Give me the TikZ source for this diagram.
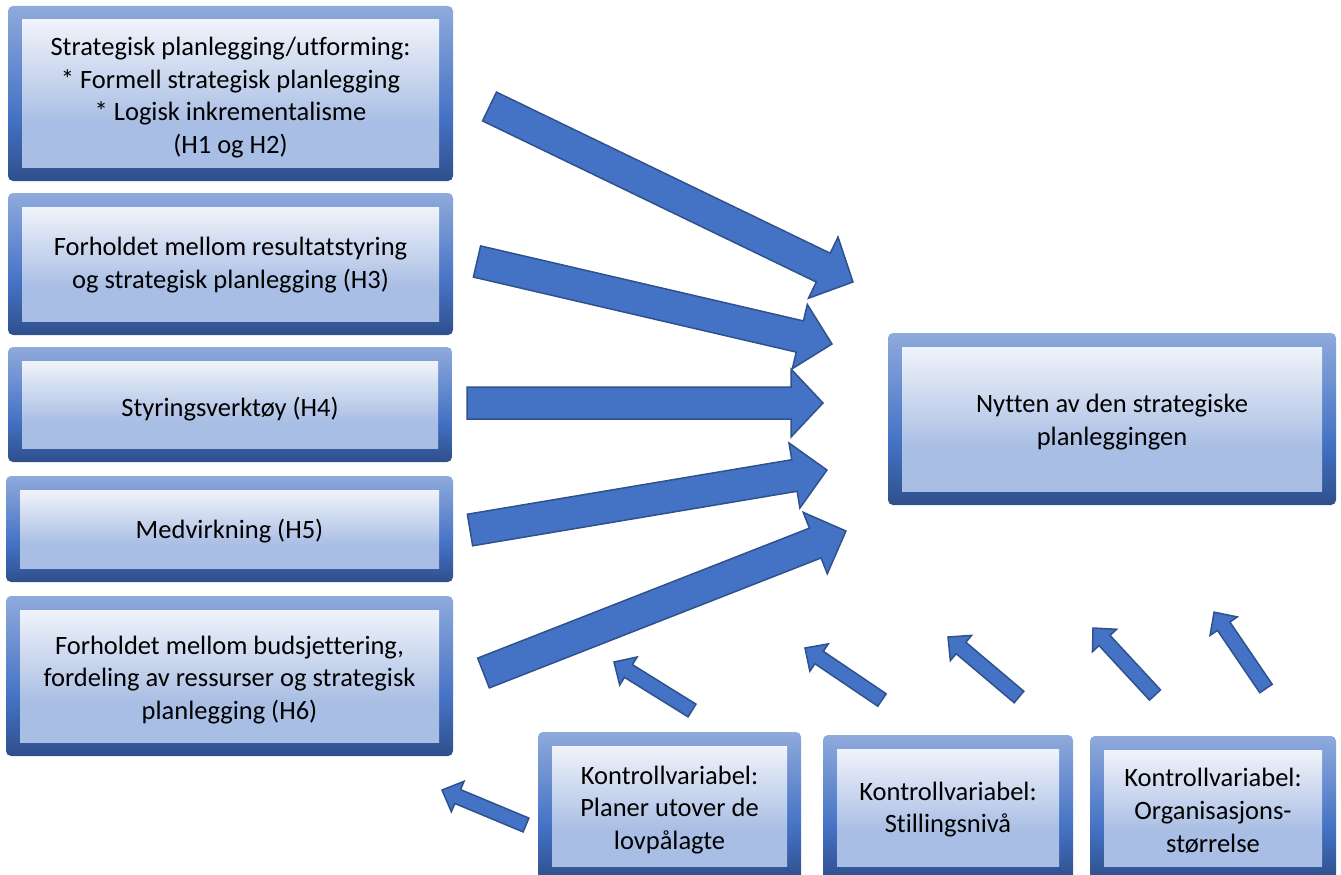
\documentclass[tikz,border=0pt]{standalone}
\usepackage{fontspec}
\setmainfont{Carlito}[Ligatures=CommonOff]
\usetikzlibrary{calc}
\definecolor{flight}{HTML}{8FAADC}
\definecolor{fmid}{HTML}{4472C4}
\definecolor{fdark}{HTML}{2F4F8C}
\definecolor{itop}{HTML}{F0F3FA}
\definecolor{ibot}{HTML}{A9BEE4}
\definecolor{arrowfill}{HTML}{4472C4}
\definecolor{arrowline}{HTML}{2F528F}
\pgfdeclareverticalshading{outerframe}{100bp}{color(0bp)=(fdark); color(25bp)=(fdark); color(43bp)=(fmid); color(75bp)=(flight); color(100bp)=(flight)}
\pgfdeclareverticalshading{innerfill}{100bp}{color(0bp)=(ibot); color(25bp)=(ibot); color(40bp)=(ibot); color(75bp)=(itop); color(100bp)=(itop)}
\tikzset{
  frame/.style={rounded corners=5pt, shading=outerframe, draw=none, inner sep=0pt, outer sep=0pt},
  innerbox/.style={shading=innerfill, draw=none, inner sep=0pt, outer sep=0pt},
  boxtext/.style={align=center, inner sep=0pt, font=\fontsize{26.5}{32.8}\selectfont, text=black},
  barrow/.style={fill=arrowfill, draw=arrowline, line width=1.5pt, line join=miter},
}
\newcommand{\blockarrow}[5]{%
  \draw[barrow] let \p1=(#1), \p2=(#2), \n1={atan2(\y2-\y1,\x2-\x1)}, \n2={veclen(\x2-\x1,\y2-\y1)} in
  [shift={(\p1)}, rotate=\n1] (0,#3) -- ({\n2-#5},#3) -- ({\n2-#5},#4) -- (\n2,0) -- ({\n2-#5},-#4) -- ({\n2-#5},-#3) -- (0,-#3) -- cycle;}
\newcommand{\boxpair}[7]{% name, x, y, w, h, text, text shift down
  \node[frame, minimum width=#4pt, minimum height=#5pt] (#1) at (#2,#3) {};
  \node[innerbox, minimum width={(#4-28)*1pt}, minimum height={(#5-28)*1pt}] (#1i) at (#1) {};
  \node[boxtext, yshift=-#7pt] (#1t) at (#1i) {#6};}
\begin{document}
\begin{tikzpicture}[x=1pt,y=-1pt]
\useasboundingbox (0,0) rectangle (1341,875);
\begin{scope}
\clip (0,0) rectangle (1341,875);
\boxpair{b1}{230.5}{93.5}{445}{175}{Strategisk planlegging/utforming:\\* Formell strategisk planlegging\\* Logisk inkrementalisme\\(H1 og H2)}{4}
\boxpair{b2}{230.5}{264}{445}{142}{Forholdet mellom resultatstyring\\og strategisk planlegging (H3)}{1}
\boxpair{b3}{230}{404.5}{444}{115}{Styringsverktøy (H4)}{5}
\boxpair{b4}{229.5}{529}{447}{106}{Medvirkning (H5)}{2}
\boxpair{b5}{229.5}{676}{447}{160}{Forholdet mellom budsjettering,\\fordeling av ressurser og strategisk\\planlegging (H6)}{4}
\boxpair{t}{1112}{419}{448}{172}{Nytten av den strategiske\\planleggingen}{3}
\boxpair{k1}{669.5}{806}{263}{148}{Kontrollvariabel:\\Planer utover de\\lovpålagte}{4}
\boxpair{k2}{948}{807.5}{250}{145}{Kontrollvariabel:\\Stillingsnivå}{2}
\boxpair{k3}{1213}{808}{246}{144}{Kontrollvariabel:\\Organisasjons-\\størrelse}{3}
\end{scope}
% big arrow endpoints
\coordinate (a1s) at (489.5,106.5); \coordinate (a1e) at (853,282);
\coordinate (a2s) at (477,261.5);   \coordinate (a2e) at (832,344);
\coordinate (a3s) at (467,403);     \coordinate (a3e) at (823,403);
\coordinate (a4s) at (470,530);     \coordinate (a4e) at (827,470);
\coordinate (a5s) at (483.5,673);   \coordinate (a5e) at (846,531);
\blockarrow{a1s}{a1e}{16}{34}{33}
\blockarrow{a2s}{a2e}{16}{33}{33}
\blockarrow{a3s}{a3e}{16}{34}{32}
\blockarrow{a4s}{a4e}{16}{33}{33}
\blockarrow{a5s}{a5e}{16}{33}{33}
% small arrow endpoints
\coordinate (s0s) at (526,825);   \coordinate (s0e) at (442,790);
\coordinate (s1s) at (692,710.5); \coordinate (s1e) at (614,662);
\coordinate (s2s) at (882,700);   \coordinate (s2e) at (805,648);
\coordinate (s3s) at (1019,697);  \coordinate (s3e) at (948,637);
\coordinate (s4s) at (1155,695);  \coordinate (s4e) at (1093,628);
\coordinate (s5s) at (1266,688.5);\coordinate (s5e) at (1214,612);
\foreach \s in {s0,s1,s2,s3,s4,s5}{\blockarrow{\s s}{\s e}{7.5}{16.5}{17}}
\end{tikzpicture}
\end{document}
